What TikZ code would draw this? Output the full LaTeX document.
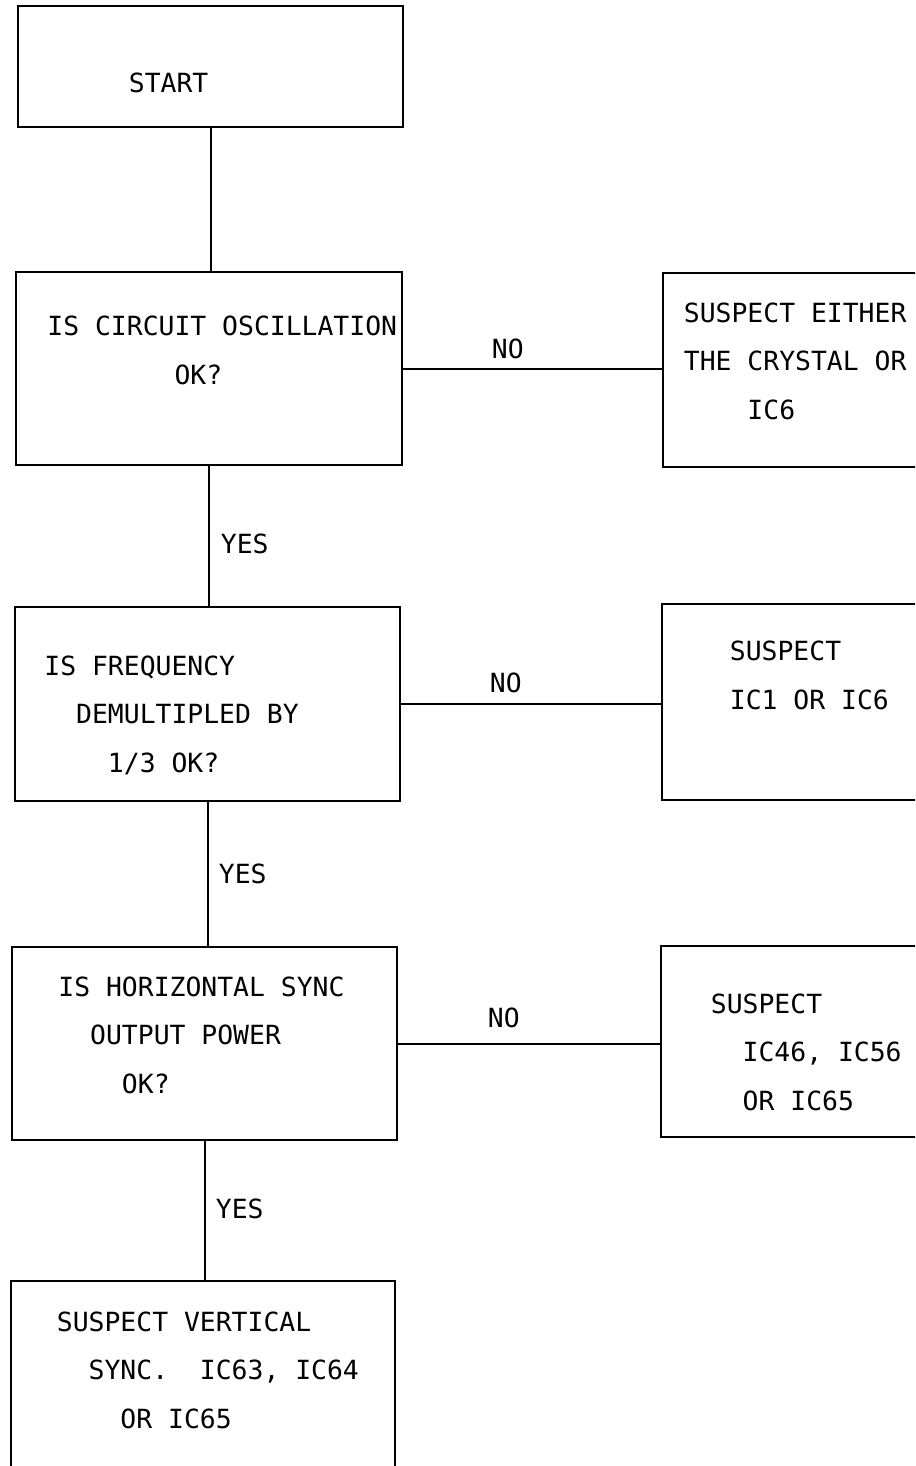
\documentclass[tikz,border=0pt]{standalone}
\usepackage{fontspec}
\usepackage{tikz}
\newfontfamily\flowfont{DejaVu Sans Mono}
\newcommand{\skipc}[1]{\hspace*{#1\fontdimen2\font}}
\tikzset{
  box/.style={draw, line width=1pt, rectangle, inner sep=0pt},
  txt/.style={anchor=base west, inner sep=0pt, align=left,
    font=\flowfont\fontsize{13.2}{24.2}\selectfont},
  link/.style={line width=1pt}
}

\begin{document}
\begin{tikzpicture}[x=0.5pt,y=-0.5pt]
\useasboundingbox (0,0) rectangle (915,1466);
\clip (0,0) rectangle (915,1466);
% boxes
\node [box, minimum width=192.5pt, minimum height=60.5pt] (start) at (210.5,66.5) {};
\node [box, minimum width=193pt, minimum height=96.5pt] (osc) at (209,368.5) {};
\node [box, minimum width=192.5pt, minimum height=97pt] (freq) at (207.5,704) {};
\node [box, minimum width=192.5pt, minimum height=96.5pt] (hsync) at (204.5,1043.5) {};
\node [box, minimum width=192pt, minimum height=104.5pt] (vsync) at (203,1385.5) {};
\node [box, minimum width=133.5pt, minimum height=97pt] (crystal) at (796.5,370) {};
\node [box, minimum width=134pt, minimum height=98pt] (icone) at (796,702) {};
\node [box, minimum width=134.5pt, minimum height=95.5pt] (icfour) at (795.5,1041.5) {};
% texts (placed at the baseline of their last line)
\node [txt] (tstart) at (128.5,93) {START};
\node [txt] (tosc) at (47,384) {IS CIRCUIT OSCILLATION\\\skipc{8}OK?};
\node [txt] (tcrystal) at (683.5,419) {SUSPECT EITHER\\THE CRYSTAL OR\\\skipc{4}IC6};
\node [txt] (tfreq) at (44,772) {IS FREQUENCY\\\skipc{2}DEMULTIPLED BY\\\skipc{4}1/3 OK?};
\node [txt] (ticone) at (729.5,709) {SUSPECT\\IC1 OR IC6};
\node [txt] (thsync) at (58,1093) {IS HORIZONTAL SYNC\\\skipc{2}OUTPUT POWER\\\skipc{4}OK?};
\node [txt] (ticfour) at (710.5,1110) {SUSPECT\\\skipc{2}IC46, IC56\\\skipc{2}OR IC65};
\node [txt] (tvsync) at (56.5,1428) {SUSPECT VERTICAL\\\skipc{2}SYNC.\skipc{2}IC63, IC64\\\skipc{4}OR IC65};
% answers
\node [txt] (no1) at (491.5,358) {NO};
\node [txt] (no2) at (489.5,692) {NO};
\node [txt] (no3) at (487.5,1027) {NO};
\node [txt] (yes1) at (220.5,553) {YES};
\node [txt] (yes2) at (218.5,883) {YES};
\node [txt] (yes3) at (215.5,1218) {YES};
% connectors
\draw [link] (start.south) -- (start.south |- osc.north);
\draw [link] (osc.south) -- (osc.south |- freq.north);
\draw [link] (freq.south) -- (freq.south |- hsync.north);
\draw [link] (hsync.south) -- (hsync.south |- vsync.north);
\draw [link] (osc.east) -- (osc.east -| crystal.west);
\draw [link] (freq.east) -- (freq.east -| icone.west);
\draw [link] (hsync.east) -- (hsync.east -| icfour.west);
\end{tikzpicture}
\end{document}
